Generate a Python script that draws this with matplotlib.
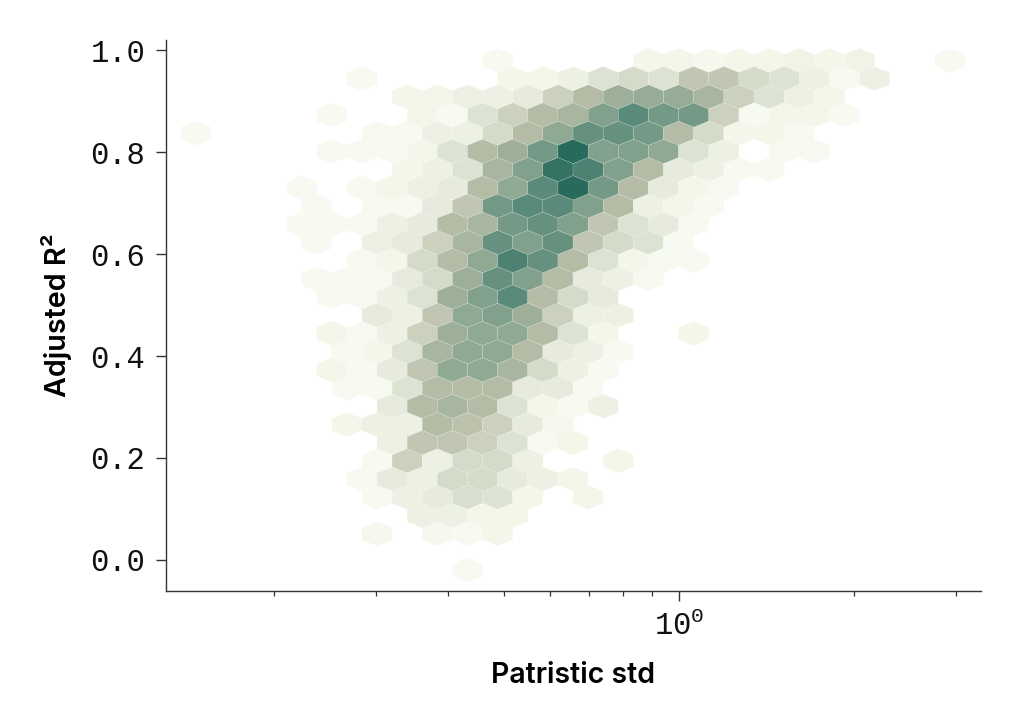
import numpy as np
import matplotlib
matplotlib.use("Agg")
import matplotlib.pyplot as plt
from matplotlib.colors import LinearSegmentedColormap

# -------------------------------
# Data
# -------------------------------
std_range = (0.147, 2.933)     # smallest / largest Patristic std
r2_range = (-0.02, 0.98)       # smallest / largest Adjusted R2
grid_size = 25

# one entry per hexagon row, bottom to top: first occupied column + cell weights (0 = empty)
row_first_col = [9, 0, 6, 7, 6, 5, 6, 6, 5, 6, 5, 4, 5, 4, 6,
                 4, 4, 5, 4, 3, 4, 3, 7, 4, 0, 4, 7, 5, 10]
row_weights = [
    [1],
    [],
    [1.5, 0, 1.5, 1, 2],
    [3, 3, 2, 2],
    [1, 3, 4, 5.5, 5, 2, 0, 2],
    [1, 4, 3, 6, 6, 4, 3, 2],
    [1, 7, 3, 6, 6, 3, 0, 0, 2],
    [3, 8, 8, 7, 5, 1, 2],
    [2, 3, 3, 9, 8.5, 7, 4, 1.5],
    [4, 9, 10, 9, 5, 2, 1, 3],
    [1, 1, 5, 9, 9, 9, 4, 4, 1],
    [2, 1, 4, 8, 12, 12, 10, 6, 3, 1],
    [1, 2, 5, 10, 12, 12, 9, 4, 3, 1],
    [2, 1, 3, 7, 11, 12, 12, 9, 5, 2, 0, 0, 2],
    [4, 3, 8, 12, 13, 11, 7, 3, 3],
    [1, 1, 3, 5, 11, 13, 16, 9, 6, 4],
    [1, 1, 1, 4, 6, 11, 15, 13, 9, 4, 3, 1],
    [1, 2, 6, 9, 12, 17, 15, 9, 5, 2, 1, 1],
    [1, 0, 3, 4, 7, 10, 15, 13, 15, 8, 6, 5, 1],
    [1, 1, 1, 3, 4, 9, 10, 14, 15, 13, 8, 5, 4, 1],
    [1, 0, 1, 1, 4, 8, 14, 16, 16, 13, 9, 3, 2, 1],
    [1, 0, 1, 2, 3, 4, 9, 12, 16, 20, 14, 9, 4, 2, 1],
    [2, 3, 5, 10, 13, 19, 17, 13, 9, 4, 3, 1, 1],
    [1, 1, 1, 2, 5, 9, 11, 14, 20, 13, 13, 12, 5, 3, 0, 1, 1],
    [1, 0, 0, 0, 0, 0, 1, 1, 3, 3, 6, 9, 12, 15, 15, 14, 9, 6, 2, 2, 1],
    [1, 0, 0, 2, 1, 5, 7, 9, 10, 13, 16, 14, 14, 7, 1, 2, 2, 1],
    [2, 2, 3, 3, 4, 7, 9, 11, 11.5, 11.5, 10, 7, 5, 3, 2],
    [1, 0, 0, 0, 0, 2, 2, 3, 5, 6, 5, 8, 8, 6, 5, 3, 1, 3],
    [1, 0, 0, 0, 0, 2, 2, 1.5, 2, 2, 2.5, 2, 2.5, 0, 0, 1],
]

# -------------------------------
# Cell centres on the hex lattice
# -------------------------------
log_lo, log_hi = np.log10(std_range[0]), np.log10(std_range[1])
n_rows = len(row_weights) - 1
col_step = (log_hi - log_lo) / grid_size

std_values, r2_values, weights = [], [], []
for j, (first, vals) in enumerate(zip(row_first_col, row_weights)):
    offset = 0.5 if j % 2 else 0.0
    for k, w in enumerate(vals):
        if w > 0:
            std_values.append(10 ** (log_lo + (first + k + offset) * col_step))
            r2_values.append(r2_range[0] + j * (r2_range[1] - r2_range[0]) / n_rows)
            weights.append(w)

# -------------------------------
# Figure
# -------------------------------
plt.rcParams['font.family'] = ['Liberation Mono', 'DejaVu Sans']
plt.rcParams['mathtext.default'] = 'regular'

cmap = LinearSegmentedColormap.from_list('sage', [
    (0.00, '#fbfdf7'), (0.05, '#f7faf1'), (0.10, '#f3f6e9'), (0.20, '#e6ebdd'),
    (0.30, '#d5dbc9'), (0.45, '#b5bca5'), (0.60, '#90a993'), (0.80, '#5a8a79'),
    (1.00, '#286b5c')])

fig = plt.figure(figsize=(10.21, 7.28), dpi=100)
ax = fig.add_axes([166 / 1021, (728 - 591) / 728, 815 / 1021, 551 / 728])

ax.hexbin(std_values, r2_values, C=weights, reduce_C_function=np.sum,
          gridsize=grid_size, xscale='log', mincnt=1, cmap=cmap, vmin=0, vmax=20,
          extent=(log_lo, log_hi, r2_range[0], r2_range[1]),
          edgecolors=(1, 1, 1, 0.45), linewidths=0.2)

ax.set_xlim(0.1305, 3.316)
ax.set_ylim(-0.061, 1.02)
ax.set_yticks([0.0, 0.2, 0.4, 0.6, 0.8, 1.0])

ax.spines['top'].set_visible(False)
ax.spines['right'].set_visible(False)
for side in ['left', 'bottom']:
    ax.spines[side].set_color('#333333')
    ax.spines[side].set_linewidth(1.0)
ax.tick_params(axis='both', which='major', length=7, width=1, color='#333333',
               labelsize=22, labelcolor='#111111', pad=8)
ax.tick_params(axis='x', which='minor', length=3.5, width=0.9, color='#333333')

ax.set_xlabel('Patristic std', family=['Inter', 'DejaVu Sans'], fontsize=20.5, fontweight='semibold', labelpad=14)
ax.set_ylabel('Adjusted R²', family=['Inter', 'DejaVu Sans'], fontsize=20.7, fontweight='semibold', labelpad=13)

fig.savefig('out.png', dpi=100)
